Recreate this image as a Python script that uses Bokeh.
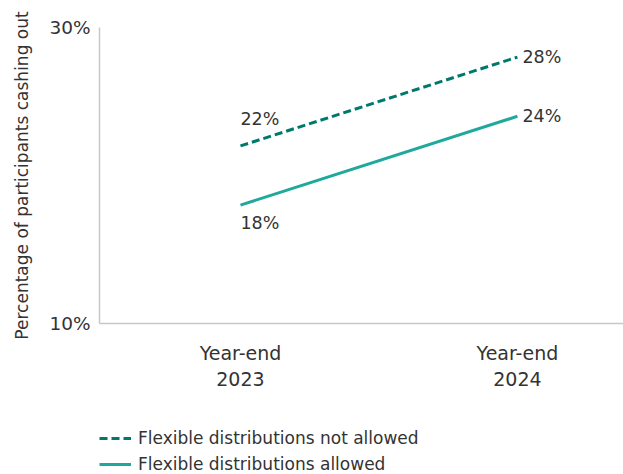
from bokeh.plotting import figure
from bokeh.layouts import column
from bokeh.models import (Range1d, FixedTicker, Legend, LegendItem, ColumnDataSource, LabelSet)
from bokeh.core.properties import value
from bokeh.embed import file_html
from bokeh.resources import INLINE

years = [2023, 2024]
year_labels = ["Year-end\n2023", "Year-end\n2024"]
not_allowed = [22, 28]
allowed = [18, 24]
y_ticks = [10, 30]
y_tick_labels = ["10%", "30%"]
series_names = ["Flexible distributions not allowed", "Flexible distributions allowed"]

FONT = "DejaVu Sans"
TXT = "#333333"
C_DASH = "#00796d"
C_SOLID = "#1fa99c"
DASH = "8 4"

p = figure(width=623, height=420, output_backend="svg", toolbar_location=None,
           x_range=Range1d(2022.491, 2024.383), y_range=Range1d(10, 30),
           min_border_left=99, min_border_right=0, min_border_top=27, min_border_bottom=97)
p.outline_line_color = None
p.grid.visible = False

p.line(years, not_allowed, line_color=C_DASH, line_width=3, line_dash=DASH)
p.line(years, allowed, line_color=C_SOLID, line_width=3)

# axes
p.xaxis.ticker = FixedTicker(ticks=years)
p.xaxis.major_label_overrides = {y: l for y, l in zip(years, year_labels)}
p.yaxis.ticker = FixedTicker(ticks=y_ticks)
p.yaxis.major_label_overrides = {t: l for t, l in zip(y_ticks, y_tick_labels)}
for ax in (p.xaxis, p.yaxis):
    ax.axis_line_color = "#c8c8c8"
    ax.axis_line_width = 1.5
    ax.major_tick_line_color = None
    ax.minor_tick_line_color = None
    ax.major_label_text_font = FONT
    ax.major_label_text_color = TXT
p.xaxis.major_label_text_font_size = "19px"
p.yaxis.major_label_text_font_size = "18.5px"
p.xaxis.major_label_standoff = 12
p.yaxis.major_label_standoff = 3
p.yaxis.axis_label = "Percentage of participants cashing out"
p.yaxis.axis_label_text_font = FONT
p.yaxis.axis_label_text_font_style = "normal"
p.yaxis.axis_label_text_font_size = "17px"
p.yaxis.axis_label_text_color = TXT
p.yaxis.axis_label_standoff = 14

# data labels
lab_src = ColumnDataSource(dict(
    x=[years[0], years[0], years[1], years[1]],
    y=[not_allowed[0], allowed[0], not_allowed[1], allowed[1]],
    t=[f"{v}%" for v in (not_allowed[0], allowed[0], not_allowed[1], allowed[1])],
    yo=[27, -18, 0, 0],
    xo=[0, 0, 5, 5],
))
labels = LabelSet(x="x", y="y", text="t", source=lab_src, x_offset="xo", y_offset="yo",
                  text_font=value(FONT), text_font_size=value("17.5px"), text_color=TXT,
                  text_baseline="middle", text_align="left")
p.add_layout(labels)

# legend strip (series drawn outside its visible range; only the legend shows)
q = figure(width=623, height=54, output_backend="svg", toolbar_location=None,
           x_range=Range1d(0, 1), y_range=Range1d(0, 1),
           min_border_left=0, min_border_right=0, min_border_top=0, min_border_bottom=0)
q.outline_line_color = None
q.grid.visible = False
q.axis.visible = False
lr1 = q.line(years, not_allowed, line_color=C_DASH, line_width=3, line_dash=DASH)
lr2 = q.line(years, allowed, line_color=C_SOLID, line_width=3)
legend = Legend(items=[LegendItem(label=series_names[0], renderers=[lr1]),
                       LegendItem(label=series_names[1], renderers=[lr2])],
                orientation="vertical", location=(0, 0),
                padding=0, margin=0, spacing=6, label_height=20, glyph_height=20,
                glyph_width=32, label_standoff=7,
                label_text_font=FONT, label_text_font_size="17px", label_text_color=TXT,
                border_line_color=None, background_fill_alpha=0)
q.add_layout(legend)

open("out.html", "w").write(file_html(column(p, q, spacing=0), INLINE))
